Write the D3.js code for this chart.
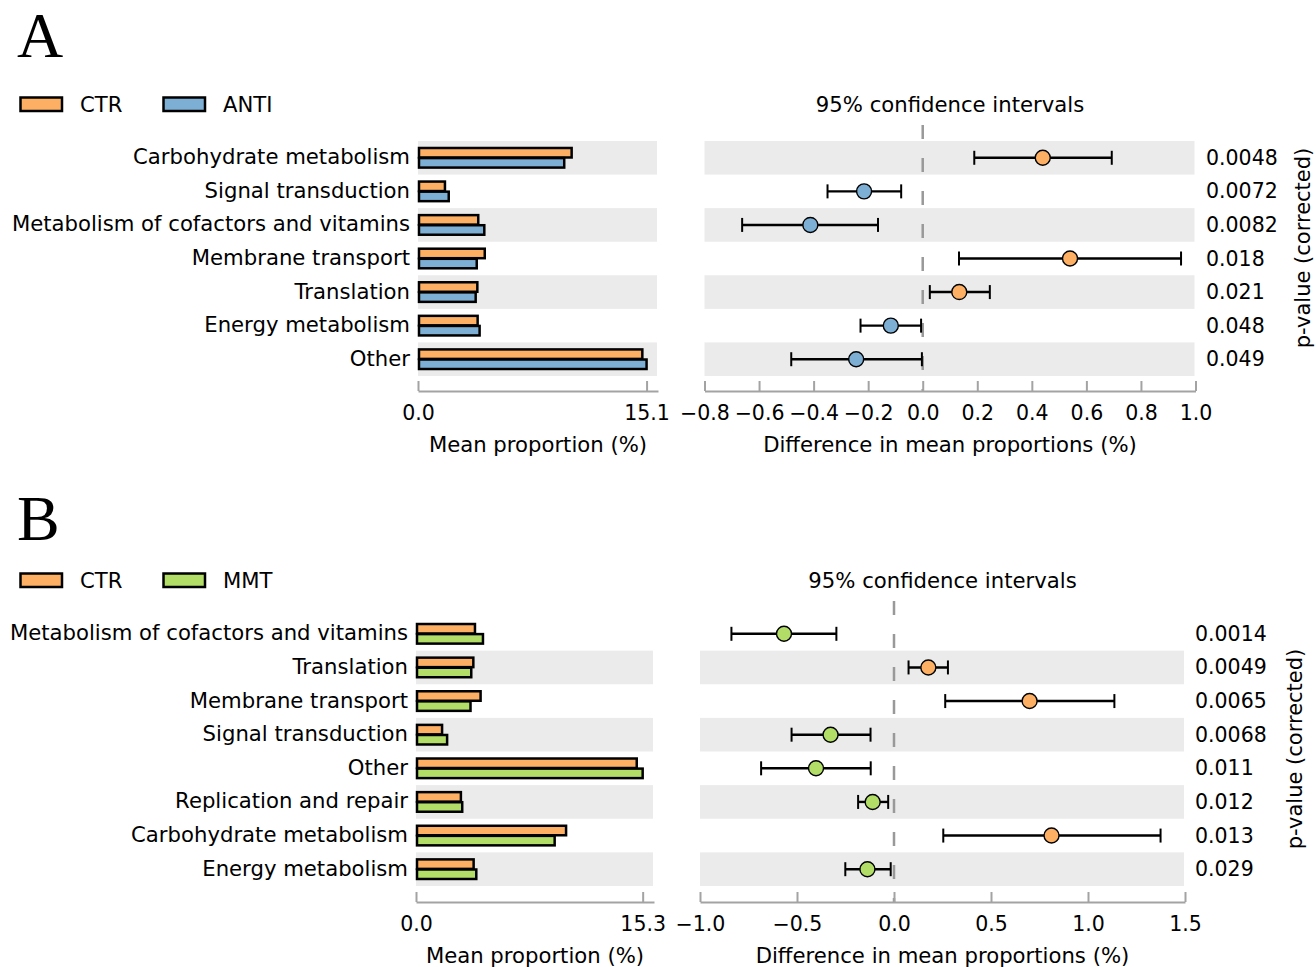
<!DOCTYPE html>
<html>
<head>
<meta charset="utf-8">
<script src="https://cdn.jsdelivr.net/npm/d3@7"></script>
<style>
  html, body { margin: 0; padding: 0; background: #fff; }
  svg { display: block; }
  text { font-family: "DejaVu Sans", sans-serif; fill: #000; }
</style>
</head>
<body>
<svg id="chart" width="1316" height="967"></svg>
<script>
// ---------------- DATA ----------------
const groupNames = ["CTR", "ANTI", "MMT"];

const featuresA = ["Carbohydrate metabolism", "Signal transduction", "Metabolism of cofactors and vitamins",
  "Membrane transport", "Translation", "Energy metabolism", "Other"];
const ctrA  = [10.15, 1.78, 3.98, 4.41, 3.92, 3.94, 14.82];
const antiA = [9.66, 2.03, 4.38, 3.88, 3.81, 4.07, 15.1];
const diffA = [0.44, -0.215, -0.412, 0.54, 0.134, -0.117, -0.244];
const lowA  = [0.189, -0.349, -0.662, 0.133, 0.026, -0.228, -0.482];
const highA = [0.693, -0.079, -0.164, 0.947, 0.246, -0.006, -0.003];
const pA    = ["0.0048", "0.0072", "0.0082", "0.018", "0.021", "0.048", "0.049"];
const barTicksA = [0, 15.1];
const ciTicksA  = [-0.8, -0.6, -0.4, -0.2, 0.0, 0.2, 0.4, 0.6, 0.8, 1.0];

const featuresB = ["Metabolism of cofactors and vitamins", "Translation", "Membrane transport",
  "Signal transduction", "Other", "Replication and repair", "Carbohydrate metabolism", "Energy metabolism"];
const ctrB  = [3.98, 3.87, 4.36, 1.76, 14.9, 3.03, 10.13, 3.89];
const mmtB  = [4.52, 3.73, 3.68, 2.10, 15.3, 3.12, 9.36, 4.07];
const diffB = [-0.567, 0.177, 0.699, -0.327, -0.402, -0.110, 0.812, -0.137];
const lowB  = [-0.838, 0.075, 0.264, -0.528, -0.685, -0.185, 0.254, -0.251];
const highB = [-0.297, 0.278, 1.136, -0.121, -0.120, -0.030, 1.374, -0.017];
const pB    = ["0.0014", "0.0049", "0.0065", "0.0068", "0.011", "0.012", "0.013", "0.029"];
const barTicksB = [0, 15.3];
const ciTicksB  = [-1.0, -0.5, 0.0, 0.5, 1.0, 1.5];

// ---------------- STYLE ----------------
const COL = { CTR: "#fdb063", ANTI: "#7dafd4", MMT: "#b2de68" };
const BAND = "#ebebeb";
const AXIS = "#a3a3a3";

const svg = d3.select("#chart");

function drawPanel(o) {
  const g = svg.append("g");
  const rows = d3.scaleBand().domain(o.features).range([o.rowTop, o.rowBottom]).paddingInner(0).paddingOuter(0);
  const xb = d3.scaleLinear().domain([0, o.barMax * 1.05]).range([o.barX0, o.barX1]);
  const xc = d3.scaleLinear().domain(o.ciDomain).range([o.ciX0, o.ciX1]);

  // panel letter
  g.append("text").attr("x", 17).attr("y", o.letterY)
    .style("font-family", "'Liberation Serif', 'Times New Roman', serif")
    .style("font-size", "64px").text(o.letter);

  // legend
  const leg = [[o.g1, 19], [o.g2, 162]];
  leg.forEach(([name, x]) => {
    g.append("rect").attr("x", x + 1.5).attr("y", o.legendY - 6.5).attr("width", 41.5).attr("height", 13.5)
      .attr("fill", COL[name]).attr("stroke", "#000").attr("stroke-width", 2.5);
    g.append("text").attr("x", x + 61).attr("y", o.legendY + 7.5).style("font-size", "21.2px").text(name);
  });

  // CI title
  g.append("text").attr("x", (o.ciX0 + o.ciX1) / 2).attr("y", o.legendY + 7.5)
    .attr("text-anchor", "middle").style("font-size", "21.2px").text("95% confidence intervals");

  // bands
  o.features.forEach((f, i) => {
    if (i % 2 === o.bandParity) {
      g.append("rect").attr("x", xb(0)).attr("y", rows(f)).attr("width", xb.range()[1] - xb(0) - 1)
        .attr("height", rows.bandwidth()).attr("fill", BAND);
      g.append("rect").attr("x", o.ciX0).attr("y", rows(f)).attr("width", o.ciX1 - o.ciX0 - 1)
        .attr("height", rows.bandwidth()).attr("fill", BAND);
    }
  });

  // row labels
  g.selectAll(".rl").data(o.features).enter().append("text")
    .attr("x", o.barX0 - 8).attr("y", d => rows(d) + rows.bandwidth() / 2 + 6.5)
    .attr("text-anchor", "end").style("font-size", "21.2px").text(d => d);

  // bars
  const bh = 9.5;
  o.features.forEach((f, i) => {
    const cy = rows(f) + rows.bandwidth() / 2;
    g.append("rect").attr("x", xb(0) + 1).attr("y", cy - bh - 0.3).attr("width", xb(o.v1[i]) - xb(0) - 1).attr("height", bh)
      .attr("fill", COL[o.g1]).attr("stroke", "#000").attr("stroke-width", 2.5);
    g.append("rect").attr("x", xb(0) + 1).attr("y", cy + 0.3).attr("width", xb(o.v2[i]) - xb(0) - 1).attr("height", bh)
      .attr("fill", COL[o.g2]).attr("stroke", "#000").attr("stroke-width", 2.5);
  });

  // dashed zero line
  g.append("line").attr("x1", xc(0)).attr("x2", xc(0)).attr("y1", o.plotTop).attr("y2", o.axisY)
    .attr("stroke", "#999").attr("stroke-width", 2.5).attr("stroke-dasharray", "14,19");

  // error bars & dots
  o.features.forEach((f, i) => {
    const cy = rows(f) + rows.bandwidth() / 2;
    g.append("line").attr("x1", xc(o.lo[i])).attr("x2", xc(o.hi[i])).attr("y1", cy).attr("y2", cy)
      .attr("stroke", "#000").attr("stroke-width", 2.4);
    [o.lo[i], o.hi[i]].forEach(v => {
      g.append("line").attr("x1", xc(v)).attr("x2", xc(v)).attr("y1", cy - 7).attr("y2", cy + 7)
        .attr("stroke", "#000").attr("stroke-width", 2);
    });
    g.append("circle").attr("cx", xc(o.diff[i])).attr("cy", cy).attr("r", 7.5)
      .attr("fill", o.diff[i] > 0 ? COL[o.g1] : COL[o.g2]).attr("stroke", "#000").attr("stroke-width", 1.4);
  });

  // p-values
  o.features.forEach((f, i) => {
    const cy = rows(f) + rows.bandwidth() / 2;
    g.append("text").attr("x", o.pX).attr("y", cy + 7).style("font-size", "20.5px").text(o.p[i]);
  });
  g.append("text").attr("transform", `translate(${o.pLabelX},${o.pLabelY}) rotate(-90)`)
    .attr("text-anchor", "middle").attr("dy", "0.35em").style("font-size", "21px").text("p-value (corrected)");

  // axes
  function styleAxis(sel) {
    sel.select(".domain").attr("stroke", AXIS).attr("stroke-width", 2);
    sel.selectAll(".tick line").attr("stroke", AXIS).attr("stroke-width", 2);
    sel.selectAll(".tick text").style("font-family", "'DejaVu Sans', sans-serif").style("font-size", "20.5px").attr("fill", "#000");
  }
  const ab = d3.axisBottom(xb).tickValues(o.barTicks).tickFormat(d3.format(".1f"))
    .tickSizeInner(-10).tickSizeOuter(0).tickPadding(14);
  g.append("g").attr("transform", `translate(0,${o.axisY})`).call(ab).call(styleAxis);
  const ac = d3.axisBottom(xc).tickValues(o.ciTicks).tickFormat(d3.format(".1f"))
    .tickSizeInner(-10).tickSizeOuter(0).tickPadding(14);
  g.append("g").attr("transform", `translate(0,${o.axisY})`).call(ac).call(styleAxis);

  // axis titles
  g.append("text").attr("x", (o.barX0 + o.barX1) / 2).attr("y", o.axisY + 60.5).attr("text-anchor", "middle")
    .style("font-size", "21.2px").text("Mean proportion (%)");
  g.append("text").attr("x", (o.ciX0 + o.ciX1) / 2).attr("y", o.axisY + 60.5).attr("text-anchor", "middle")
    .style("font-size", "21.2px").text("Difference in mean proportions (%)");
}

drawPanel({
  letter: "A", letterY: 57, legendY: 104, g1: "CTR", g2: "ANTI",
  features: featuresA, v1: ctrA, v2: antiA, diff: diffA, lo: lowA, hi: highA, p: pA,
  barMax: 15.1, barTicks: barTicksA, ciTicks: ciTicksA, ciDomain: [-0.8, 1.0],
  barX0: 418, barX1: 658, ciX0: 704.5, ciX1: 1195.5,
  rowTop: 141, rowBottom: 376, plotTop: 125, axisY: 391, bandParity: 0,
  pX: 1206, pLabelX: 1303, pLabelY: 248
});

drawPanel({
  letter: "B", letterY: 540, legendY: 580, g1: "CTR", g2: "MMT",
  features: featuresB, v1: ctrB, v2: mmtB, diff: diffB, lo: lowB, hi: highB, p: pB,
  barMax: 15.3, barTicks: barTicksB, ciTicks: ciTicksB, ciDomain: [-1.0, 1.5],
  barX0: 416, barX1: 654, ciX0: 700, ciX1: 1185,
  rowTop: 617, rowBottom: 886, plotTop: 601, axisY: 902, bandParity: 1,
  pX: 1195, pLabelX: 1295, pLabelY: 749
});
</script>
</body>
</html>
